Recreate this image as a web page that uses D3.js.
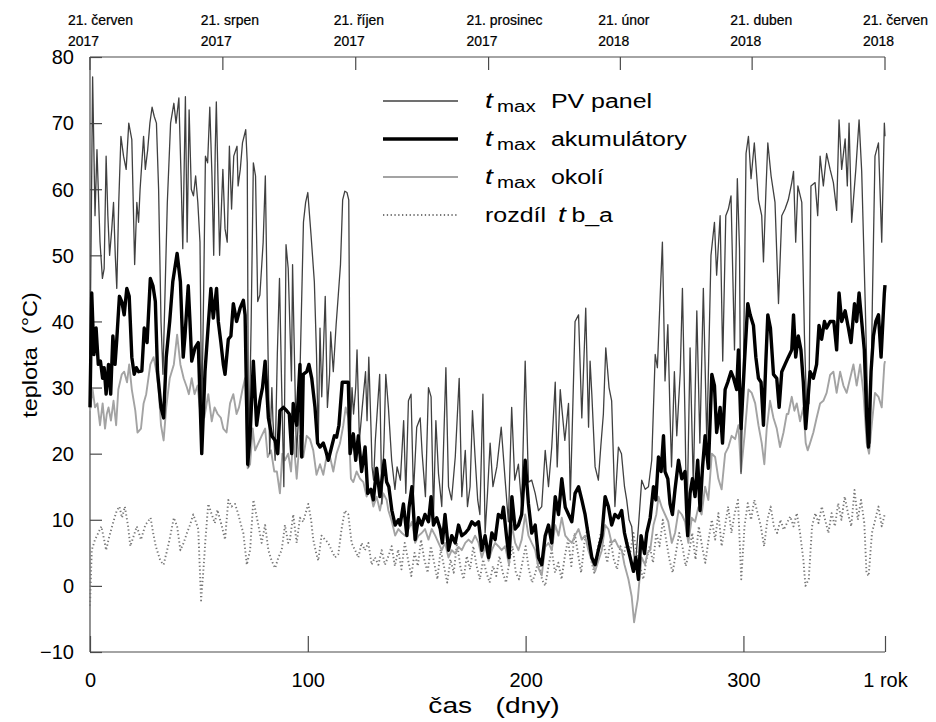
<!DOCTYPE html>
<html><head><meta charset="utf-8">
<script src="https://cdn.jsdelivr.net/npm/d3@7"></script>
<style>body{margin:0;background:#fff;} svg{display:block;font-family:"Liberation Sans",Arial,sans-serif;}</style>
</head><body>
<svg id="chart" width="936" height="722"></svg>
<script>
// [day, °C]
const pvPanel = [[0,35],[1.2,77],[2.3,56],[3.2,66],[3.8,60],[4.6,52],[5.7,46.5],[6.5,48],[7.4,65],[8.2,56],[9,50],[10,54],[10.8,58],[11.6,50],[12.3,45],[13.2,58],[14.2,68],[15.4,65],[16.6,63],[17.8,70],[19.2,67.5],[20.5,48.6],[21.5,58],[22.3,55],[23,60],[24.6,68],[25.4,63],[26.5,66],[27.5,70],[28.5,72.4],[29.5,71],[30.5,70],[31.5,60],[32.6,40],[33.5,32],[34.5,45],[35.5,58],[37,70],[38.5,73],[39.5,70],[40.8,73.8],[41.8,62],[42.6,51],[43.8,74],[44.6,52],[45.5,72],[46.5,60],[47.5,59],[48.5,62],[49.5,58],[50.5,52],[51.3,25],[52.2,45],[53,65],[54,64],[55,72.4],[56,62],[56.8,50],[57.5,66],[58,73.2],[59.5,50],[61,63],[62,54],[63,52],[64,66.5],[65,57],[66,65],[67.5,66.5],[68,60.5],[69,63],[70,67],[71.5,69],[72.2,64],[72.8,18],[74,40],[75,64],[76,62],[77,43],[78,44],[79.5,52],[80.5,62],[81.5,40],[82.5,20],[83.5,30],[84,25],[85,19],[86,35],[87,46.5],[88,30],[89,15],[90,51.6],[91,48],[92.5,31],[93,48.6],[94.8,19.5],[95.5,24],[96.5,33.5],[98,55],[99,58],[100,59.5],[101.5,53],[103,46],[104,35],[104.8,21.6],[105.6,39],[106.4,28.6],[107.2,36],[108,43.8],[109,27],[110,32],[110.5,38.4],[111.7,32.4],[113,39.5],[114,44],[115,48.6],[116,58.4],[117,59.7],[118,59.5],[118.8,58.4],[119.5,22.7],[120.3,30],[121,26],[122,30],[122.6,35.7],[123.7,22],[125,27],[126.5,32.4],[127.2,25],[128,34.6],[129,24],[129.5,18],[130.2,16],[131,22],[132,27],[133,32],[134,12.4],[135,22],[135.8,32],[137,27],[138.5,19],[140,14.6],[141,18],[142.5,16],[144,25],[145,14],[146.2,28],[147.4,29],[148.5,14],[150,24],[151.6,25.4],[152.5,20],[154,13.5],[155.4,30],[156.6,28.6],[157.7,10.8],[158.8,25],[160,17],[161.5,12],[163.4,33],[164.6,15],[166,13],[167.7,19.5],[169.5,31.4],[170.7,13.5],[172.3,20.5],[173.3,12],[174.5,15],[175.6,26.5],[176.8,19.5],[178,13],[179,10.8],[180.4,29],[181.4,8],[182.5,14],[183.7,21.6],[185,15],[186.8,18],[188.8,24],[190.6,16],[192.1,9.7],[193.6,27],[195,16],[196.7,18.4],[198.2,12],[199.8,34],[201.3,15.7],[202.8,16],[204.4,14],[205.9,11.4],[207.4,12],[209,20.5],[210.5,15],[212,21],[213.6,30.8],[214.5,18],[215.9,29.7],[216.6,27],[218,22],[219.7,27.6],[220.5,13],[221.5,25],[222.7,40],[224.3,41],[225.8,25.4],[227.6,42],[228.9,24],[229.6,34],[230.4,29],[231.9,18],[233.4,16],[234.5,21],[235.7,26],[236.8,36],[238.3,30],[239.5,28],[241,12],[242.6,21],[244,20],[245.4,15],[246.4,13],[247.5,10],[248.7,9],[250.3,2.7],[251.8,9],[253.3,16],[254.9,14.6],[256.4,15],[257.9,19],[259.5,35],[260.5,33],[261.8,44],[262.8,52],[264,31],[265.3,39.5],[266.3,26],[267,18],[268.3,32.4],[269.4,22.7],[271,32.4],[272,45],[273.2,25],[274,8],[275.5,36],[277,15],[278.6,41.6],[280,21.6],[281.6,45],[283.2,21.6],[285.1,50],[286.7,55],[287.7,47],[289.3,56],[290.5,34],[291.9,56],[293.1,57],[294.3,59],[295.9,35.7],[297.2,61.6],[298.2,51],[298.9,17],[300,32.4],[301.2,65.4],[302.3,68],[303.5,61.6],[305,67],[306.9,58.4],[308.4,56],[309.2,49],[310.3,59.5],[311.2,67],[312.7,62],[314.5,58],[316.1,42.7],[317.6,56],[319.1,57],[320.6,58.4],[322.2,61],[323,62.7],[324,52],[325,60.5],[326.8,58],[328,38],[329,27],[330.1,27.6],[331,60.5],[332.9,61],[334.1,56],[335.2,65],[336.7,60.5],[338.2,65.4],[339.8,63],[341.3,61],[342.8,56.8],[343.9,70.5],[345.1,63],[346.7,67.6],[347.7,60.5],[348.5,70],[349.7,55],[351.6,63],[353.1,70.5],[354.3,62.7],[355.9,43],[357.1,26.5],[358.2,21.6],[359.2,43],[360.4,65],[362,67],[363.5,52],[364.7,70],[365,68]];

const accumulators = [[0,27],[0.8,44.3],[1.8,35],[2.8,39],[3.8,33.5],[4.8,34],[5.8,31.4],[6.5,33],[7.4,29],[8.5,33.5],[9.5,29],[10.5,37.8],[11.5,33.5],[12.3,37.3],[13.5,43.8],[14.6,43],[15.7,41],[16.9,45],[18,43.8],[19.2,34.6],[20.3,32],[21.3,33],[22.3,32.4],[23.8,32.5],[24.9,39],[26.2,36.8],[27.7,46.5],[28.9,45.4],[30,43],[31,32.4],[32.6,27],[33.8,25.4],[35,34.6],[36.6,40],[38,46],[40,50.3],[41.5,46],[42.8,34.6],[43.6,37.8],[45.1,45.4],[45.9,40],[46.7,34],[48.2,36],[49.7,36.8],[51.3,20],[52.8,32.4],[54.3,39.5],[55.5,45],[56.6,40.5],[58.1,45],[58.9,40],[60.1,36.8],[61.2,33.5],[62,32],[63.5,37.3],[64.7,37.8],[65.8,42.7],[67.3,40],[68.9,42],[70.4,43.2],[71.2,41],[72.4,18.4],[73.5,22.7],[75,34],[76.5,24.3],[78,28],[79.2,30],[80.4,34],[81.9,25.4],[83.4,22.7],[85,22],[86.2,20],[87.2,26.5],[88.8,27],[90.3,26.5],[91.5,26],[92.6,20],[93.3,27.6],[94.9,24.3],[96.4,33.5],[97.2,19.5],[97.9,32],[99.5,32.4],[100.5,33.5],[101.8,31.4],[103.3,27],[104.5,21.6],[105.6,21],[107.1,21.6],[108.2,20.5],[109.4,19],[110.9,21],[112.2,22.7],[113.2,22.5],[114.3,24.3],[115.8,30.8],[117,30.8],[118.6,30.8],[119.4,20],[120.9,23],[122,19],[123.2,22.7],[124.7,17.3],[126.3,21],[127.5,14],[129,14.6],[130.1,13],[131.6,17.8],[133.1,13.5],[135.1,19],[136.2,15.7],[137.2,15],[138.6,11.4],[140.1,9.2],[141.6,10],[142.4,9.2],[143.9,12.4],[145.5,7.6],[146.5,11.9],[147.8,15],[149.3,7],[150.8,10.3],[152.3,9.2],[153.8,10.8],[155.4,9.7],[156.6,13.5],[157.7,9.2],[159.2,10.3],[160.8,8.6],[161.8,6.5],[163,10.8],[164.6,5.4],[166.1,7.6],[167.7,6.5],[169.2,9.2],[170.7,7.6],[172.3,8],[173.8,8.6],[175.3,9.7],[176.8,9.2],[178.4,9.7],[179.9,5.4],[181.4,7.6],[183,4.3],[184.5,8],[186,7],[187.5,10.8],[189,10.3],[189.8,11.9],[191.4,7],[192.4,4.3],[193.7,13.5],[195.2,8.6],[196.7,9.2],[198.2,10.8],[199.8,19],[201.3,12.4],[202.8,8],[204.4,9.2],[205.9,4.3],[207.4,3.2],[209,7.6],[210.5,9.2],[212,6.5],[213.6,13.5],[215.1,10.8],[216.6,16.2],[218.2,11.9],[219.7,10.8],[221.2,9.7],[222.7,14],[224.3,15],[225.8,13],[227.3,10.8],[228.8,7.6],[230.4,4.3],[231.9,3.2],[233.4,5.4],[235,7.6],[236.5,13.5],[238,12],[239.5,9.2],[241,10.8],[242.6,10.3],[244.1,11.4],[245.4,8],[246.4,6.5],[248,4.3],[249.5,2.2],[250.6,4.3],[251.8,1],[253,7.6],[254.6,4.9],[255.6,8],[257.2,10.3],[258.7,15],[259.8,13],[261,19.5],[262.2,17.3],[263.3,22.7],[264,17.3],[265.3,16.2],[266.3,12.4],[267.4,10.8],[268.6,14.6],[270.2,19],[271.7,16.2],[273.2,17.3],[274.4,7.6],[275.5,14],[276.6,16.2],[277.8,13.5],[279,19],[280.1,11.4],[281.2,17.8],[282.4,22.7],[283.9,17.8],[285.5,32],[286.7,30.3],[287.7,23.2],[289.3,27],[290.4,21.6],[291.6,29.7],[292.8,30.8],[294.3,32.4],[295.4,31.5],[296.9,29.7],[297.7,35.7],[298.9,23.8],[300.5,34],[302,42.7],[303.1,41],[304.6,39.4],[305.7,34.6],[306.9,31.4],[308.1,30.8],[309.2,24.3],[310.3,34],[311.2,41],[312.4,39],[313.8,32],[315.3,31.4],[316.4,27],[317.6,32.4],[319.1,33.5],[320.6,34.6],[322.2,35.7],[323,41],[324,34.6],[325.2,37.8],[326.4,35.7],[327.5,30.8],[328.6,23.8],[329.5,27.6],[330.6,32.4],[332.1,31.4],[333.6,33.5],[334.7,39.4],[335.9,37.3],[337.2,40],[338.2,39],[339.8,40],[341.5,40],[342.8,35.7],[343.9,44.3],[345.1,40],[346.7,41.6],[348.2,39],[349.4,36.8],[351,42.7],[352,40],[353.1,44.3],[354.3,40],[355.5,35.7],[356.6,25.4],[357.4,21],[358.6,32.4],[359.7,37.8],[360.8,40],[362,41],[363.2,34.6],[364.7,44.3],[365,45.5]];

const ambient = [[0,26.5],[1.2,29.7],[2.3,27],[3.4,27.6],[4.6,24.3],[5.8,27.6],[6.9,23.8],[7.7,26],[8.5,27],[9.6,25],[10.8,28],[12,24.3],[13,29.7],[14.6,32],[15.7,32.4],[17,30.8],[18,33.5],[19.2,29.7],[20.8,26.5],[21.8,23.2],[23.4,23.8],[24.6,27.6],[25.8,29],[27.7,33.5],[29.2,34.6],[30.5,32.4],[31.5,29.7],[32.6,24.3],[33.8,22],[35,27],[36.6,31.4],[38.5,33.5],[40,38],[41.5,33.5],[43,31.4],[44.5,30],[45.4,29],[46.7,31.4],[48,29],[49.4,30.3],[51,24.9],[52.5,25.5],[54.3,29],[55.9,24.9],[57.2,27],[58.6,26],[60.1,25.4],[61.2,23.8],[62.7,23.2],[64.3,27.6],[65.8,29],[67.3,26],[68.4,27],[70,29.7],[71.2,31.4],[72.4,17.8],[73.5,18.4],[74.7,23.8],[75.8,20.5],[77.3,21.6],[78.8,22.7],[80.4,23.8],[81.6,19.5],[83.1,20.5],[84.6,17.3],[85.8,17.3],[87.2,14],[88.3,20],[89.5,19],[91,20],[92.3,17.3],[93.3,22.7],[94.9,16.2],[96.4,22.7],[97.9,19.5],[99.5,22.7],[101,22.2],[102.5,20.5],[104,16.8],[105.6,18.4],[107.1,16.8],[108.6,19.5],[110.2,19.5],[111.7,17.3],[113.2,20],[114.8,21.6],[116.3,24.3],[117.4,27],[118.6,25.4],[119.8,16.2],[120.9,15.7],[122.4,17.3],[124,16.2],[125.5,15.7],[127,13.5],[128.5,14.6],[130.1,12],[131.6,13.5],[133.1,11.4],[134.7,14],[136.2,13],[137,11.4],[138.6,9.7],[140.1,7.6],[141.6,8.6],[143.2,8],[144.7,7.6],[146.2,8.6],[147.8,9.7],[149.3,6.5],[150.8,7.6],[152.3,8],[153.8,8.6],[155.4,7],[156.9,8.6],[158.5,7.6],[160,6.5],[161.5,5.4],[163,6.5],[164.6,4.3],[166.1,5.4],[167.7,4.9],[169.2,5.9],[170.7,5.4],[172.3,6.5],[173.8,7],[175.3,6.5],[176.8,7.6],[178.4,6.5],[179.9,4.3],[181.4,5.9],[183,3.8],[184.5,5.4],[186,6.5],[187.5,6],[189,5.4],[190.6,6],[192.4,3.2],[193.7,9.2],[195.2,6.5],[196.7,5.4],[198.2,7],[199.8,10.8],[201.3,7.6],[202.8,6.5],[204.4,5.4],[205.9,2.7],[207.4,1.6],[209,5.9],[210.5,6.5],[212,5.4],[213.6,9.2],[215.1,7.6],[216.6,10.3],[218.2,7.6],[219.7,7],[221.2,6.5],[222.7,7.6],[224.3,8.6],[225.8,7],[227.3,7.6],[228.8,5.4],[230.4,3.8],[231.9,2.2],[233.4,3.8],[235,5.4],[236.5,9.2],[238,8.6],[239.5,6.5],[241,7],[242.6,5.9],[244.1,5.4],[245.4,3.2],[247.2,1],[248.7,-1.6],[249.8,-5.5],[250.5,-4],[251.5,-2],[252.3,1],[253.3,4.3],[254.8,3.2],[256,5],[257.2,5.4],[258.7,9.2],[260,10.8],[261,13.5],[262.5,11.9],[264,10.8],[265.5,9.7],[267.1,6.5],[268.6,8],[270.2,11.4],[271.7,10.8],[273.2,9.7],[274.7,6.5],[276.3,10.3],[277.8,9.7],[279.3,11.9],[280.8,10.8],[282.4,15],[283.9,13],[285.5,20],[287,19.5],[288.5,16.2],[290,14.6],[291.6,20],[293.1,21],[294.6,22.7],[296.2,22.2],[297.7,24.3],[298.9,17.3],[300.5,22.7],[302.3,29.7],[303.8,29.2],[305.4,27.6],[306.9,24.3],[308.4,21.6],[309.6,18.4],[310.7,23.8],[312.2,28],[313.8,25.4],[315.3,23.8],[316.8,21],[318.4,23.2],[319.9,26],[320.6,26],[322.2,28.6],[323.4,26.5],[324.5,27.6],[326,24.9],[327.5,27],[328.6,21.6],[329.5,20.5],[330.6,21.6],[332.1,23.2],[333.6,25.4],[335.2,27.6],[336.7,28],[338.2,29.2],[339.8,31.9],[341.3,32.4],[342.8,29.2],[344.4,32.4],[345.9,30.3],[347.4,29.2],[349,31.4],[350.5,33.5],[352,30.3],[353.6,33.5],[355.1,29.2],[356.6,21.6],[357.7,20],[358.9,24.3],[360.4,29.2],[362,28.6],[363.5,27],[364.7,33.5],[365,34]];

const difference = [[0,-3],[0.8,5.4],[2.3,7],[3.8,8],[5.2,9],[6.5,7],[7.4,5.4],[8.5,7],[9.8,8.6],[11,10],[12.3,11.4],[13.5,12],[14.7,10.3],[16,12],[17.5,9],[18.5,6],[19.5,7],[21.5,9],[23.4,7],[25.4,9.2],[27.8,10.3],[29,8],[30.2,6],[32.3,3.8],[33.8,3.2],[36.2,6.5],[38.5,10.3],[40,9],[41.5,5.4],[43,6.5],[44.5,8],[45.9,9.2],[47.4,10.8],[48.8,9.5],[49.7,8.6],[51,-2.2],[52.2,3],[53,7],[54.3,12.4],[55.9,10.8],[57.3,9.5],[58.5,11.5],[60.4,9.2],[62,7],[63.5,13],[65,12],[66.6,12.4],[68.1,10.8],[69.5,9],[70.4,8],[72,3.2],[73.5,5.4],[75,13],[76.2,11],[77.3,9.2],[78.8,6.5],[80.4,9.2],[81.9,5.4],[83.4,3.8],[85,2.7],[86.5,4.3],[88,5.4],[89.5,9.2],[91,6.5],[91.8,7],[93.3,10.8],[94.9,6.5],[96.4,10.3],[97.9,9.7],[99,11],[100.2,12.4],[101.5,10],[102.5,7],[103.8,5],[104.8,3.8],[106.3,7.6],[107.9,7],[109.4,6.5],[110.9,5.4],[112.5,4.3],[114,4.8],[115.5,8.6],[117,11.4],[118.6,10.8],[120.1,6.5],[121.7,5.4],[123.2,4.3],[124.7,6.5],[126.2,5.4],[127.8,6.5],[129.3,3.2],[130.8,4.3],[132.4,3.2],[133.9,5.4],[135.4,3.2],[137,4.5],[138.5,6],[140,3],[141.5,5.5],[143,2.5],[144.5,6.5],[146,4],[147.5,1.5],[149,5],[150.5,3],[152,7],[153.5,4],[155,2],[156.5,6],[158,3.5],[159.5,1],[161,5.5],[162.5,3],[164,0.5],[165.5,4],[167,2],[168.5,6.5],[170,3],[171.5,1],[173,4.5],[174.5,2.5],[176,6],[177.5,3],[179,1],[180.5,4],[182,2],[183.5,0.5],[185,3],[186.5,1.5],[188,4.5],[189.5,2],[191,0.5],[192.5,3.5],[194,6],[195.5,2],[197,1],[198.5,3.5],[200,6],[201.5,2.5],[203,0.5],[204.5,2],[206,4],[207.5,1],[209,0],[210.5,3],[212,5.5],[213.5,2],[215,3.5],[216.5,1],[218,4.5],[219.5,7],[221,3],[222.5,8],[224,5],[225.5,2],[227,6.5],[228.5,9],[230,4],[231.5,2],[233,5.5],[234.5,8],[236,6],[237.5,3.5],[239,7],[240.5,4],[242,2.5],[243.5,6],[245,4.5],[246.5,7],[248,5],[249.5,8],[251,5],[252.5,3],[254,1],[255.5,4],[257,6],[258.5,3.5],[260,8],[261.5,6],[263,10],[264.5,7],[266,4],[267.5,2],[269,5],[270.5,8],[272,6],[273.5,3],[275,5],[276.5,8],[278,4],[279.5,9],[281,6],[282.5,3.5],[284,7],[285.5,10],[287,7],[288.5,11],[290,6],[291.5,9],[293,12],[294.5,8],[296,11],[297.5,13],[299,1],[300.5,9],[302,12.5],[303.5,10],[305,13],[306.5,11],[308,9],[309.5,6],[311,10],[312.5,12],[314,9],[315.5,8],[317,10],[318.5,8.5],[320,9.5],[321.5,10.5],[323,9],[324.5,11],[326,8],[327.5,4],[328.5,0],[330,1],[331.5,9],[333,11],[334.5,9.5],[336,12],[337.5,10],[339,8],[340.5,11],[342,9],[343.5,12.5],[345,10],[346.5,13.5],[348,11],[349.5,9],[351,14.5],[352.5,10],[354,13],[355.5,9.5],[356.5,2],[357.5,1.5],[359,8],[360.5,10],[362,12],[363.5,9],[365,11]];

const yTicks = [-10, 0, 10, 20, 30, 40, 50, 60, 70, 80];
const xTicks = [0, 100, 200, 300, 365];
const xTickLabels = ["0", "100", "200", "300", "1 rok"];
const topDays = [0, 61, 122, 183, 243.5, 304, 365];
const topLabels = [["21. červen","2017"],["21. srpen","2017"],["21. říjen","2017"],["21. prosinec","2017"],["21. únor","2018"],["21. duben","2018"],["21. červen","2018"]];
const legendItems = [
  {key:"pv", pre:"t", sub:"max", text:"PV panel"},
  {key:"acc", pre:"t", sub:"max", text:"akumulátory"},
  {key:"amb", pre:"t", sub:"max", text:"okolí"},
  {key:"diff", text:"rozdíl", post:"t", post2:"b_a"}
];

const styles = {
  pv:   {stroke:"#404040", width:1.3, dash:null},
  acc:  {stroke:"#000000", width:3.4, dash:null},
  amb:  {stroke:"#a3a3a3", width:1.9, dash:null},
  diff: {stroke:"#777777", width:1.9, dash:"1.3,2.5"}
};

const svg = d3.select("#chart");
const x = d3.scaleLinear().domain([0, 365]).range([90, 885]);
const y = d3.scaleLinear().domain([-10, 80]).range([652, 57]);
const axisColor = "#4a4a4a";
const FONT = "'Liberation Sans',Arial,sans-serif";

// frame lines
svg.append("line").attr("x1",90).attr("x2",90).attr("y1",y(80)).attr("y2",y(-10)).attr("stroke",axisColor).attr("stroke-width",1.2);
svg.append("line").attr("x1",90).attr("x2",x(365)).attr("y1",y(-10)).attr("y2",y(-10)).attr("stroke",axisColor).attr("stroke-width",1.2);
svg.append("line").attr("x1",90).attr("x2",x(365)).attr("y1",y(80)).attr("y2",y(80)).attr("stroke",axisColor).attr("stroke-width",1.2);

// left axis (inward ticks)
const yAxis = d3.axisLeft(y).tickValues(yTicks).tickSizeInner(-12).tickSizeOuter(0).tickPadding(16);
const gy = svg.append("g").attr("transform","translate(90,0)").call(yAxis);
gy.select(".domain").remove();
gy.selectAll(".tick line").attr("stroke",axisColor).attr("stroke-width",1.2);
gy.selectAll(".tick text").attr("font-size",20).attr("fill","#000").attr("font-family",FONT).attr("dy","0.34em");

// bottom axis (inward ticks)
const xAxis = d3.axisBottom(x).tickValues(xTicks).tickFormat((d,i)=>xTickLabels[i]).tickSizeInner(-16).tickSizeOuter(0).tickPadding(21);
const gx = svg.append("g").attr("transform",`translate(0,${y(-10)})`).call(xAxis);
gx.select(".domain").remove();
gx.selectAll(".tick line").attr("stroke",axisColor).attr("stroke-width",1.2);
gx.selectAll(".tick text").attr("font-size",20).attr("fill","#000").attr("font-family",FONT);

// top date axis (ticks pointing down)
const gt = svg.append("g");
topDays.forEach((d,i)=>{
  gt.append("line").attr("x1",x(d)).attr("x2",x(d)).attr("y1",y(80)).attr("y2",y(80)+13).attr("stroke",axisColor).attr("stroke-width",1.2);
  const g = gt.append("g").attr("transform",`translate(${x(d)-22},0) scale(0.9,1)`);
  const t = g.append("text").attr("x",0).attr("y",25).attr("font-size",15.5)
    .attr("font-family",FONT).attr("fill","#000").attr("stroke","#000").attr("stroke-width",0.25);
  t.append("tspan").attr("x",0).text(topLabels[i][0]);
  t.append("tspan").attr("x",0).attr("dy",21).text(topLabels[i][1]);
});

// axis titles
const yt = svg.append("g").attr("transform",`translate(37,355) rotate(-90) scale(1.12,1)`);
yt.append("text").attr("text-anchor","middle").attr("font-size",21).attr("fill","#000")
  .style("white-space","pre").text("teplota  (°C)");
const xt = svg.append("g").attr("transform",`translate(494,713) scale(1.28,1)`);
xt.append("text").attr("text-anchor","middle").attr("font-size",22).attr("fill","#000")
  .style("white-space","pre").text("čas   (dny)");

// series
const line = d3.line().x(d=>x(d[0])).y(d=>y(d[1]));
const series = [["diff",difference],["amb",ambient],["pv",pvPanel],["acc",accumulators]];
series.forEach(([k,data])=>{
  const s = styles[k];
  const p = svg.append("path").datum(data).attr("d",line).attr("fill","none")
    .attr("stroke",s.stroke).attr("stroke-width",s.width).attr("stroke-linejoin","round");
  if (s.dash) p.attr("stroke-dasharray",s.dash);
});

// legend
const legY = [101, 139, 177, 215];
legendItems.forEach((it,i)=>{
  const s = styles[it.key];
  const ly = legY[i];
  const l = svg.append("line").attr("x1",383).attr("x2",458).attr("y1",ly).attr("y2",ly)
    .attr("stroke",s.stroke).attr("stroke-width",it.key==="acc"?3.4:(it.key==="pv"?1.3:1.8));
  if (s.dash) l.attr("stroke-dasharray",s.dash);
  const g = svg.append("g").attr("transform",`translate(485,${ly+7}) scale(1.28,1)`);
  if (it.pre) {
    g.append("text").attr("x",0).attr("font-style","italic").attr("font-size",22).attr("fill","#000").text(it.pre);
    g.append("text").attr("x",9.4).attr("y",4).attr("font-size",16).attr("fill","#000").text(it.sub);
    g.append("text").attr("x",51.5).attr("font-size",19.5).attr("fill","#000").text(it.text);
  } else {
    g.append("text").attr("x",0).attr("font-size",19.5).attr("fill","#000").text(it.text);
    g.append("text").attr("x",57).attr("font-style","italic").attr("font-size",22).attr("fill","#000").text(it.post);
    g.append("text").attr("x",67.5).attr("font-size",19.5).attr("fill","#000").text(it.post2);
  }
});
</script>
</body></html>
